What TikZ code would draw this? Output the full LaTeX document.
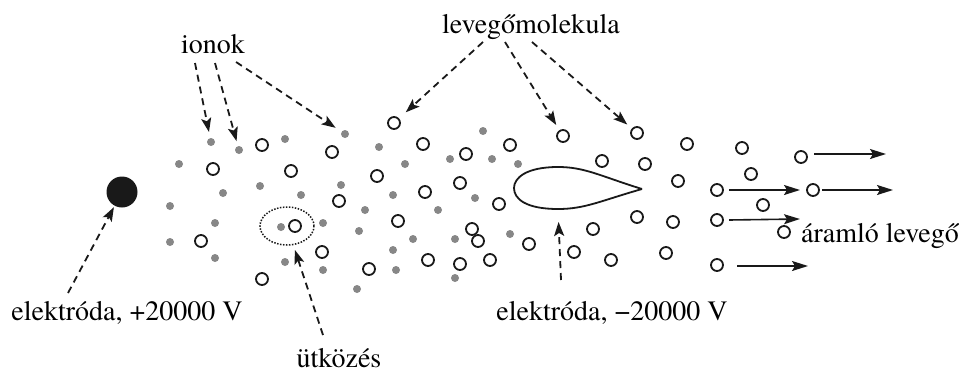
\documentclass[tikz,border=0pt]{standalone}
\usepackage{fontspec}
\setmainfont{TeX Gyre Termes}
\usetikzlibrary{arrows.meta,shapes.geometric}
\definecolor{ioncol}{RGB}{135,135,135}
\definecolor{ink}{RGB}{25,25,25}
\begin{document}
\begin{tikzpicture}[x=1pt,y=-1pt,
  lbl/.style={font=\fontsize{28}{30}\selectfont, inner sep=0pt, anchor=base},
  mol/.style={circle, draw=ink, line width=1.8pt, minimum size=12pt, inner sep=0pt},
  ion/.style={circle, fill=ioncol, minimum size=8pt, inner sep=0pt},
  pointer/.style={draw=ink, line width=1.8pt, dash pattern=on 7pt off 5pt,
    -{Stealth[length=14pt,width=10pt,inset=3pt]}},
  flow/.style={draw=ink, line width=1.6pt, -{Stealth[length=16pt,width=10pt,inset=3pt]}}]
\useasboundingbox (0,0) rectangle (968,372);

% electrodes
\node[circle, fill=ink, minimum size=31pt, inner sep=0pt] (anode) at (122,192) {};
\draw[ink, line width=1.8pt] (642,189) .. controls (600,176) and (585,167) .. (558,167)
  .. controls (526,167) and (514,178) .. (514,188)
  .. controls (514,199) and (526,209) .. (558,209)
  .. controls (585,209) and (600,201) .. (642,189);
\coordinate (cathode) at (558,209);

% ions (grey dots)
\foreach \x/\y [count=\i] in {285/139, 179/164, 223/193, 260/186, 301/195, 170/206,
  215/223, 170/242, 215/258, 285/262, 323/223, 323/270,
  379/147, 405/164, 483/131, 450/159, 492/159, 518/164, 341/185, 393/195,
  365/210, 475/198, 438/210, 359/231, 413/239, 455/239, 510/234, 393/250,
  396/270, 455/278, 357/289}
  \node[ion] (ion\i) at (\x,\y) {};
\node[ion] (ionA) at (211,142) {};
\node[ion] (ionB) at (239,150) {};
\node[ion] (ionC) at (345,134) {};

% air molecules (open circles)
\foreach \x/\y [count=\i] in {262/145, 213/169, 291/171, 201/241, 322/252, 262/279,
  332/152, 423/144, 466/154, 510/145, 377/176, 460/183, 425/192, 339/201,
  499/204, 398/221, 472/229, 478/241, 529/244, 428/260, 460/264, 490/260,
  369/269, 602/161, 645/164, 637/217, 593/229, 574/252, 611/260,
  687/144, 742/148, 678/181, 751/174, 717/190, 813/190, 763/205, 673/222,
  717/220, 784/232, 666/253, 717/265, 801/157}
  \node[mol] (mol\i) at (\x,\y) {};
\node[mol] (molA) at (394,123) {};
\node[mol] (molB) at (563,136) {};
\node[mol] (molC) at (637,133) {};

% collision
\node[ion] (hitIon) at (281,227) {};
\node[mol] (hitMol) at (295,226) {};
\node[ellipse, draw=ink, line width=1.5pt, dash pattern=on 1.5pt off 1.5pt,
  minimum width=54pt, minimum height=38pt, inner sep=0pt] (hit) at (287,226) {};

% labels
\node[lbl] (ionok) at (213,53) {ionok};
\node[lbl] (levego) at (531,33) {levegőmolekula};
\node[lbl] (plus) at (127,320) {elektróda, +20000 V};
\node[lbl] (minus) at (612,320) {elektróda, −20000 V};
\node[lbl] (utkozes) at (339,367) {ütközés};
\node[lbl] (aram) at (880,242) {áramló levegő};

% pointer starts
\coordinate (pi1) at (195,63);
\coordinate (pi2) at (215,63);
\coordinate (pi3) at (236,62);
\coordinate (pl1) at (483,42);
\coordinate (pl2) at (505,42);
\coordinate (pl3) at (532,42);
\coordinate (pp) at (68,293);
\coordinate (pu) at (323,335);
\coordinate (pm) at (561,280);

\draw[pointer, shorten >=6pt] (pi1) -- (ionA);
\draw[pointer, shorten >=5pt] (pi2) -- (ionB);
\draw[pointer, shorten >=7pt] (pi3) -- (ionC);
\draw[pointer, shorten >=9pt] (pl1) -- (molA);
\draw[pointer, shorten >=6pt] (pl2) -- (molB);
\draw[pointer, shorten >=6pt] (pl3) -- (molC);
\draw[pointer, shorten >=1.5pt] (pp) -- (anode);
\draw[pointer, shorten >=5pt] (pu) -- (hit);
\draw[pointer, shorten >=13pt] (pm) -- (cathode);

% flowing air
\coordinate (f1s) at (814,154); \coordinate (f1e) at (886,154);
\coordinate (f2s) at (729,190); \coordinate (f2e) at (800,190);
\coordinate (f3s) at (822,190); \coordinate (f3e) at (893,190);
\coordinate (f4s) at (729,220); \coordinate (f4e) at (800,219);
\coordinate (f5s) at (737,266); \coordinate (f5e) at (808,266);
\foreach \k in {1,...,5} \draw[flow] (f\k s) -- (f\k e);
\end{tikzpicture}
\end{document}
